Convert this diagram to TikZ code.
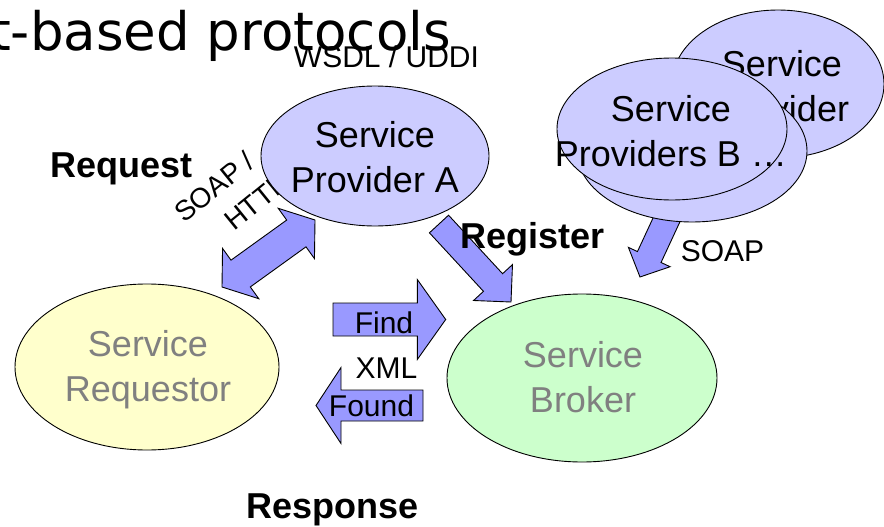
\documentclass[tikz,border=0pt]{standalone}
\usepackage{fontspec}
\setmainfont{Liberation Sans}
\newfontfamily\titlefont{DejaVu Sans}
\usetikzlibrary{calc,shapes.geometric}

\definecolor{provfill}{HTML}{CCCCFF}
\definecolor{arrowfill}{HTML}{9999FF}
\definecolor{reqfill}{HTML}{FFFFCC}
\definecolor{brokfill}{HTML}{CCFFCC}
\definecolor{softtext}{HTML}{808080}

% block arrow from a tail coordinate to a tip coordinate
% #1 tail, #2 tip, #3 shaft half-width, #4 head half-width, #5 head length
\newcommand\blockarrow[5]{%
  \coordinate (#2-hb) at ($(#2)!#5!(#1)$);
  \draw[arrowbody]
    ($(#1)!#3!90:(#2)$) -- ($(#2-hb)!#3!90:(#2)$) -- ($(#2-hb)!#4!90:(#2)$) -- (#2)
    -- ($(#2-hb)!#4!-90:(#2)$) -- ($(#2-hb)!#3!-90:(#2)$) -- ($(#1)!#3!-90:(#2)$) -- cycle;
}
% two-headed block arrow between two tip coordinates
\newcommand\twowayarrow[5]{%
  \coordinate (#1-hb) at ($(#1)!#5!(#2)$);
  \coordinate (#2-hb) at ($(#2)!#5!(#1)$);
  \draw[arrowbody]
    (#1) -- ($(#1-hb)!#4!90:(#2)$) -- ($(#1-hb)!#3!90:(#2)$)
    -- ($(#2-hb)!#3!-90:(#1)$) -- ($(#2-hb)!#4!-90:(#1)$) -- (#2)
    -- ($(#2-hb)!#4!90:(#1)$) -- ($(#2-hb)!#3!90:(#1)$)
    -- ($(#1-hb)!#3!-90:(#2)$) -- ($(#1-hb)!#4!-90:(#2)$) -- cycle;
}

\begin{document}
\begin{tikzpicture}[x=1pt,y=-1pt,
  oval/.style={ellipse, draw=black, line width=0.9pt, inner sep=0pt},
  ovaltext/.style={inner sep=0pt, align=center, font=\fontsize{36}{45}\selectfont},
  arrowbody/.style={draw=black, fill=arrowfill, line width=0.9pt, line join=miter},
  lbl/.style={inner sep=0pt, anchor=base, font=\fontsize{30}{36}\selectfont},
  bigbold/.style={inner sep=0pt, anchor=base, font=\fontsize{36}{43}\selectfont\bfseries},
  tilted/.style={anchor=base west, inner sep=0pt, rotate=39, font=\fontsize{28}{33}\selectfont},
]
\useasboundingbox (0,0) rectangle (884,527);
\clip (0,0) rectangle (884,527);
\fill[white] (0,0) rectangle (884,527);

% heading, cut at the left edge
\node[anchor=base west, inner sep=0pt, font=\titlefont\fontsize{53}{60}\selectfont] (title) at (-10,51) {t-based protocols};
\node[lbl] (wsdl) at (386.5,68) {WSDL / UDDI};

% protocol label, partly covered by provider A
\node[tilted] (soapa) at (184,224) {SOAP /};
\node[tilted] (soapb) at (234,232) {HTTP};

% block arrows
\coordinate (reqtip) at (222,287);
\coordinate (provtip) at (315,220);
\coordinate (regtail) at (439,224);
\coordinate (regtip) at (511,302);
\coordinate (soaptail) at (672,208);
\coordinate (soaptip) at (640,277);
\coordinate (findtail) at (333,319.5);
\coordinate (findtip) at (445.7,319.5);
\coordinate (foundtail) at (423,405.5);
\coordinate (foundtip) at (316,405.5);

\twowayarrow{reqtip}{provtip}{16.5pt}{31pt}{23pt}
\blockarrow{regtail}{regtip}{13pt}{26.5pt}{26.5pt}
\blockarrow{soaptail}{soaptip}{13pt}{23pt}{22pt}
\blockarrow{findtail}{findtip}{16.5pt}{40pt}{28.4pt}
\blockarrow{foundtail}{foundtip}{15.5pt}{38pt}{25pt}

% stacked providers B
\node[oval, fill=provfill, minimum width=212pt, minimum height=148pt] (provC) at (778,84) {};
\node[ovaltext] at (782,86) {Service\\Provider};
\node[oval, fill=provfill, minimum width=230pt, minimum height=142pt] (provB2) at (692,151) {};
\node[oval, fill=provfill, minimum width=230pt, minimum height=142pt] (provB) at (672,129) {};
\node[ovaltext] at (671,131) {Service\\Providers B …};

% provider A
\node[oval, fill=provfill, minimum width=228pt, minimum height=140pt] (provA) at (375,156) {};
\node[ovaltext] at (375,157) {Service\\Provider A};

% requestor and broker
\node[oval, fill=reqfill, minimum width=264pt, minimum height=166pt] (req) at (147,367) {};
\node[ovaltext, text=softtext] at (148,370) {Service\\Requestor};
\node[oval, fill=brokfill, minimum width=270pt, minimum height=168pt] (brok) at (582,378) {};
\node[ovaltext, text=softtext] at (583,377) {Service\\Broker};

% labels
\node[bigbold] (request) at (121.5,177) {Request};
\node[bigbold] (register) at (532.5,248) {Register};
\node[bigbold] (response) at (332.5,518) {Response};
\node[lbl] (soapc) at (722.5,261.7) {SOAP};
\node[lbl] (find) at (384,333) {Find};
\node[lbl] (xml) at (386.5,378) {XML};
\node[lbl] (found) at (371.5,416) {Found};
\end{tikzpicture}
\end{document}
